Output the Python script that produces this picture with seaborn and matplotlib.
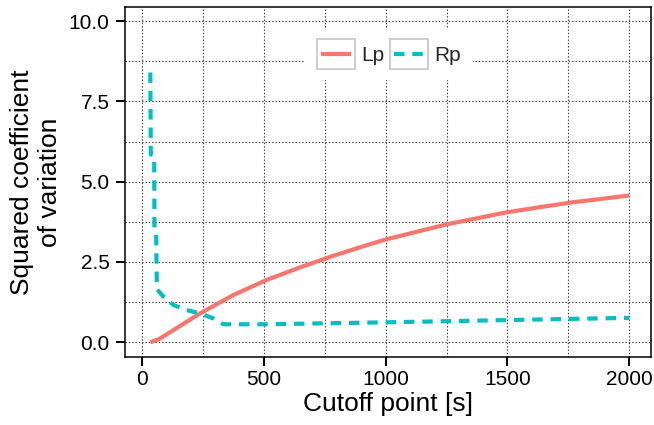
import matplotlib
matplotlib.use("Agg")
import matplotlib.pyplot as plt
from matplotlib.legend_handler import HandlerBase
from matplotlib.lines import Line2D
from matplotlib.patches import Rectangle
from matplotlib.ticker import MultipleLocator
import pandas as pd
import seaborn as sns

# Squared coefficient of variation against cutoff point
lp_cutoff = [33, 70, 101, 238, 374, 511, 648, 784, 921, 1000, 1250, 1500, 1750, 2000]
lp_scv = [0.0, 0.1, 0.25, 0.9, 1.47, 1.94, 2.33, 2.69, 3.02, 3.2, 3.67, 4.05, 4.34, 4.57]

rp_cutoff = [33, 35, 49, 50, 57, 60, 87, 128, 183, 238, 292, 333, 511, 1000, 1495, 2000]
rp_scv = [8.4, 5.85, 5.8, 3.5, 3.4, 1.65, 1.42, 1.16, 1.0, 0.9, 0.74, 0.56, 0.56, 0.62, 0.69, 0.76]

series_names = ["Lp", "Rp"]
series_colors = {"Lp": "#F8766D", "Rp": "#00BFC4"}
series_dashes = {"Lp": "", "Rp": (2.5, 1.9)}

x_ticks = [0, 500, 1000, 1500, 2000]
y_ticks = [0.0, 2.5, 5.0, 7.5, 10.0]

df = pd.concat([
    pd.DataFrame({"cutoff": lp_cutoff, "scv": lp_scv, "series": "Lp"}),
    pd.DataFrame({"cutoff": rp_cutoff, "scv": rp_scv, "series": "Rp"}),
], ignore_index=True)

sns.set_theme(style="white")
plt.rcParams["font.family"] = ["Liberation Sans", "DejaVu Sans"]

fig = plt.figure(figsize=(6.54, 4.25), dpi=100)
ax = fig.add_axes([125 / 654, 1 - 356.7 / 425, 526 / 654, 349.4 / 425])

sns.lineplot(data=df, x="cutoff", y="scv", hue="series", style="series",
             hue_order=series_names, style_order=series_names,
             palette=series_colors, dashes=series_dashes,
             estimator=None, linewidth=3, legend=False, ax=ax)
for line in ax.lines:
    line.set_solid_capstyle("butt")
    line.set_dash_capstyle("butt")
    line.set_solid_joinstyle("round")

ax.set_xlim(-71, 2090)
ax.set_ylim(-0.45, 10.43)
ax.set_xticks(x_ticks)
ax.set_xticklabels([str(v) for v in x_ticks])
ax.set_yticks(y_ticks)
ax.set_yticklabels([f"{v:.1f}" for v in y_ticks])
ax.xaxis.set_minor_locator(MultipleLocator(250))
ax.yaxis.set_minor_locator(MultipleLocator(1.25))

ax.set_axisbelow(True)
ax.grid(which="both", color="#333333", linewidth=0.8, linestyle=(0, (1.2, 1.8)))

for spine in ax.spines.values():
    spine.set_visible(True)
    spine.set_color("black")
    spine.set_linewidth(1.1)

ax.tick_params(which="major", direction="out", length=6.5, width=1.4,
               color="black", labelsize=15, labelcolor="black",
               bottom=True, left=True, top=False, right=False)
ax.tick_params(axis="x", which="major", pad=3)
ax.tick_params(axis="y", which="major", pad=4.5)
ax.tick_params(which="minor", length=0)

ax.set_xlabel("Cutoff point [s]", fontsize=19, color="black")
ax.set_ylabel("Squared coefficient\nof variation", fontsize=19, color="black",
              multialignment="center")
ax.xaxis.set_label_coords(0.5, -0.10)
ax.yaxis.set_label_coords(-0.12, 0.5)


class KeyHandler(HandlerBase):
    """Legend key drawn as a framed box with the line inset."""

    def create_artists(self, legend, orig_handle, xdescent, ydescent,
                       width, height, fontsize, trans):
        box = Rectangle((-xdescent, -ydescent), width, height,
                        facecolor="white", edgecolor="#CCCCCC",
                        linewidth=1.4, transform=trans)
        y = -ydescent + height / 2
        inset = 0.11 * width
        line = Line2D([-xdescent + inset, -xdescent + width - inset], [y, y])
        line.update_from(orig_handle)
        line.set_transform(trans)
        return [box, line]


handles = ax.lines[:2]
handler = KeyHandler()
leg = ax.legend(handles, series_names, loc="center", bbox_to_anchor=(0.502, 0.866),
                ncol=2, fontsize=15, frameon=True, fancybox=False,
                facecolor="white", edgecolor="none", framealpha=1,
                handlelength=1.85, handleheight=1.8, handletextpad=0.3,
                columnspacing=0.25, borderpad=0.55,
                handler_map={h: handler for h in handles})

fig.savefig("out.png", dpi=100, facecolor="white")
